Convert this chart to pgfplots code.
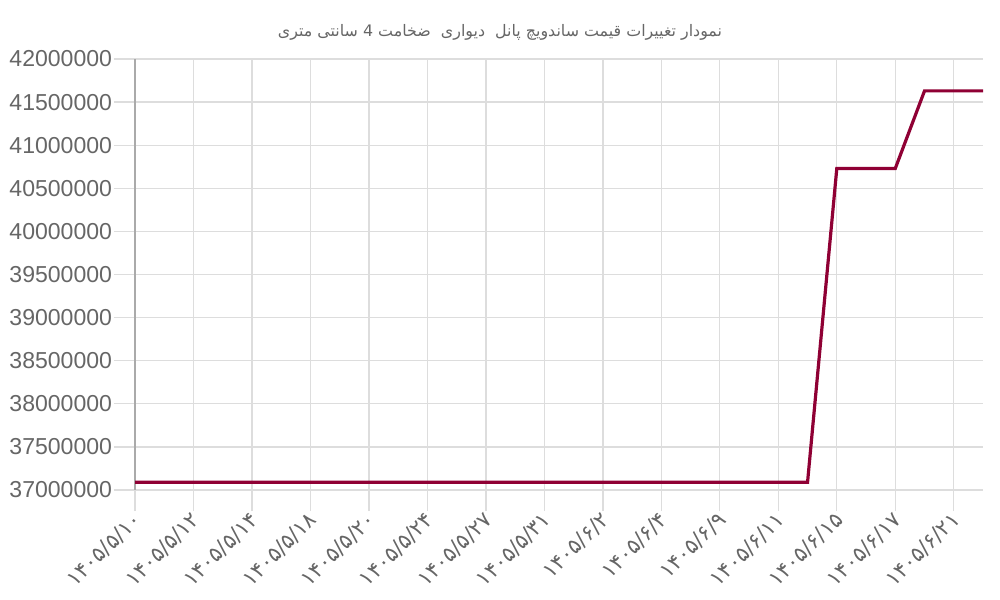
\documentclass[border=0pt]{standalone}
\usepackage{fontspec}
\setmainfont{Liberation Sans}
\newfontfamily\arabicfont[Script=Arabic]{DejaVu Sans}
\TeXXeTstate=1
\usepackage{pgfplots}
\pgfplotsset{compat=1.18}
\definecolor{linec}{RGB}{143,0,52}
\definecolor{gridc}{RGB}{221,221,221}
\definecolor{axc}{RGB}{170,170,170}
\definecolor{txt}{RGB}{102,102,102}
\begin{document}
\begin{tikzpicture}
\useasboundingbox (0,0) rectangle (750pt,450pt);
\begin{axis}[
  at={(101.25pt,82.5pt)}, anchor=south west,
  scale only axis, width=636pt, height=323.25pt,
  xmin=0, xmax=29, ymin=37000000, ymax=42000000,
  axis lines*=left,
  clip=false,
  xtick={0,2,4,6,8,10,12,14,16,18,20,22,24,26,28},
  xticklabels={۱۴۰۵/۵/۱۰,۱۴۰۵/۵/۱۲,۱۴۰۵/۵/۱۴,۱۴۰۵/۵/۱۸,۱۴۰۵/۵/۲۰,۱۴۰۵/۵/۲۴,۱۴۰۵/۵/۲۷,۱۴۰۵/۵/۳۱,۱۴۰۵/۶/۲,۱۴۰۵/۶/۴,۱۴۰۵/۶/۹,۱۴۰۵/۶/۱۱,۱۴۰۵/۶/۱۵,۱۴۰۵/۶/۱۷,۱۴۰۵/۶/۲۱},
  ytick={37000000,37500000,38000000,38500000,39000000,39500000,40000000,40500000,41000000,41500000,42000000},
  scaled y ticks=false,
  yticklabel style={/pgf/number format/fixed, /pgf/number format/1000 sep={}, /pgf/number format/assume math mode=true, font=\fontsize{17.3}{19}\selectfont, text=txt, inner sep=1pt},
  xticklabel style={font=\arabicfont\fontsize{16}{18}\selectfont, text=txt, rotate=45, anchor=east, inner sep=1pt, yshift=-4pt},
  grid=major,
  major grid style={gridc, line width=1pt},
  tick style={gridc, line width=1pt},
  tick align=outside,
  major tick length=16pt,
  x axis line style={gridc, line width=1pt},
  y axis line style={axc, line width=1pt},
]
\addplot[linec, line width=2.4pt, mark=none] coordinates {
(0,37090000)(1,37090000)(2,37090000)(3,37090000)(4,37090000)(5,37090000)
(6,37090000)(7,37090000)(8,37090000)(9,37090000)(10,37090000)(11,37090000)
(12,37090000)(13,37090000)(14,37090000)(15,37090000)(16,37090000)(17,37090000)
(18,37090000)(19,37090000)(20,37090000)(21,37090000)(22,37090000)(23,37090000)
(24,40730000)(25,40730000)(26,40730000)(27,41630000)(28,41630000)(29,41630000)
};
\end{axis}
\node[text=txt] at (375pt,425.5pt) {\arabicfont\fontsize{11.9}{14}\selectfont\beginR نمودار تغییرات قیمت ساندویچ پانل \ دیواری \ ضخامت 4 سانتی متری\endR};
\end{tikzpicture}
\end{document}
